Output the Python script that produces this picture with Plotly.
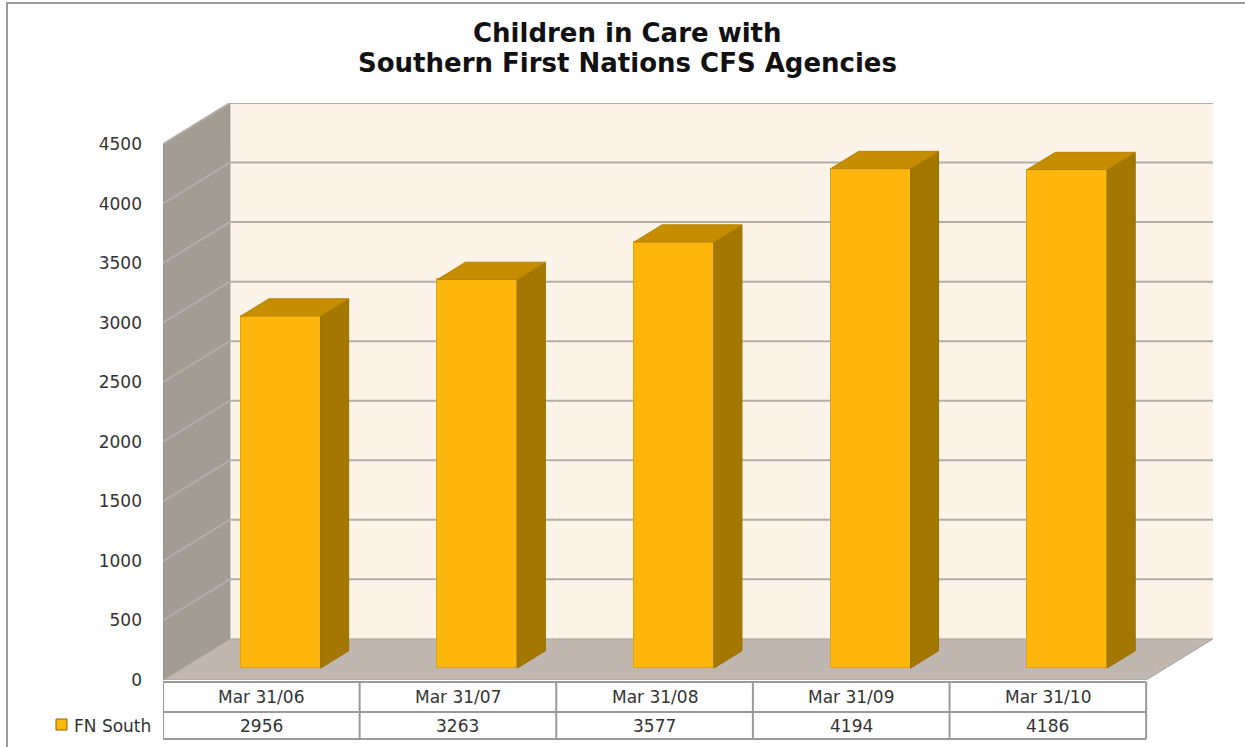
import plotly.graph_objects as go

# ---- data ----
categories = ["Mar 31/06", "Mar 31/07", "Mar 31/08", "Mar 31/09", "Mar 31/10"]
values = [2956, 3263, 3577, 4194, 4186]
series_name = "FN South"
y_ticks = [0, 500, 1000, 1500, 2000, 2500, 3000, 3500, 4000, 4500]
title_lines = ["Children in Care with", "Southern First Nations CFS Agencies"]

# ---- pseudo-3D geometry (style) ----
DX, DY = 0.34, 345          # full depth offset in axis units
F0, F1 = 0.29, 0.71         # bar depth span (fraction of depth)
BW = 0.406                  # bar width in category units
YMAX = max(y_ticks)
n = len(categories)
XMAX = n + DX
YTOP = YMAX + DY

FONT = "'DejaVu Sans', sans-serif"
FRONT = "#FFB70D"
TOP = "#C68D00"
SIDE = "#A47800"
EDGE = "#D9A21A"
GRID = "#B3ADA7"
TXT = "#333333"

fig = go.Figure()

# bars: front faces
base = F0 * DY
xc = [i + 0.5 + F0 * DX for i in range(n)]
fig.add_trace(go.Bar(x=xc, y=values, base=base, width=BW,
                     marker=dict(color=FRONT, line=dict(color=EDGE, width=1)),
                     hoverinfo="skip", showlegend=False))

# bars: side and top faces
ddx, ddy = (F1 - F0) * DX, (F1 - F0) * DY
sx, sy, tx, ty = [], [], [], []
for c, v in zip(xc, values):
    xl, xr = c - BW / 2, c + BW / 2
    sx += [xr, xr + ddx, xr + ddx, xr, xr, None]
    sy += [base, base + ddy, base + ddy + v, base + v, base, None]
    tx += [xl, xr, xr + ddx, xl + ddx, xl, None]
    ty += [base + v, base + v, base + v + ddy, base + v + ddy, base + v, None]
fig.add_trace(go.Scatter(x=sx, y=sy, fill="toself", fillcolor=SIDE, mode="lines",
                         line=dict(color="#9A7000", width=1), hoverinfo="skip", showlegend=False))
fig.add_trace(go.Scatter(x=tx, y=ty, fill="toself", fillcolor=TOP, mode="lines",
                         line=dict(color="#B88300", width=1), hoverinfo="skip", showlegend=False))

# ---- layout ----
L, R, T, B = 163, 32, 103, 67
W, H = 1245, 747
pw, ph = W - L - R, H - T - B
upx = XMAX / pw  # x units per pixel


def py(px):  # pixel y -> paper y
    return (H - B - px) / ph


def ppx(px):  # pixel x -> paper x
    return (px - L) / pw


def path(pts):
    return "M " + " L ".join(f"{x},{y}" for x, y in pts) + " Z"


shapes = []
# walls & floor (drawn beneath the bars)
shapes.append(dict(type="path", xref="x", yref="y", layer="below",
                   path=path([(DX, DY), (XMAX, DY), (XMAX, YTOP), (DX, YTOP)]),
                   fillcolor="#FDF4E9", line=dict(width=0)))
shapes.append(dict(type="path", xref="x", yref="y", layer="below",
                   path=path([(0, 0), (DX, DY), (DX, YTOP), (0, YMAX)]),
                   fillcolor="#A39C95", line=dict(color="#938C86", width=1)))
shapes.append(dict(type="path", xref="x", yref="y", layer="below",
                   path=path([(0, 0), (n, 0), (XMAX, DY), (DX, DY)]),
                   fillcolor="#C0B8B0", line=dict(color="#A8A19A", width=1)))
for t in y_ticks[1:]:
    shapes.append(dict(type="path", xref="x", yref="y", layer="below",
                       path=f"M 0,{t} L {DX},{t + DY} L {XMAX},{t + DY}",
                       line=dict(color=GRID, width=2)))

line_c = "#9A9A9A"
r1, r2, r3 = py(682), py(712), py(739)
leg_left = (48 - L) * upx
for x0, yy in [(0, r1), (leg_left, r2), (leg_left, r3)]:
    shapes.append(dict(type="line", xref="x", yref="paper", x0=x0, x1=n, y0=yy, y1=yy,
                       line=dict(color=line_c, width=2)))
for i in range(n + 1):
    shapes.append(dict(type="line", xref="x", yref="paper", x0=i, x1=i, y0=r1, y1=r3,
                       line=dict(color=line_c, width=2)))
shapes.append(dict(type="line", xref="x", yref="paper", x0=leg_left, x1=leg_left, y0=r2, y1=r3,
                   line=dict(color=line_c, width=2)))
# legend key
shapes.append(dict(type="rect", xref="paper", yref="paper", x0=ppx(56), x1=ppx(67), y0=py(730), y1=py(719),
                   fillcolor=FRONT, line=dict(color="#8A6A00", width=1)))
# outer chart border
shapes.append(dict(type="rect", xref="paper", yref="paper", x0=ppx(7), x1=ppx(1260), y0=py(770), y1=py(3),
                   line=dict(color="#9C9C9C", width=2), fillcolor="rgba(0,0,0,0)", layer="below"))

annotations = []
for i, (c, v) in enumerate(zip(categories, values)):
    annotations.append(dict(x=i + 0.5, y=(r1 + r2) / 2, xref="x", yref="paper", text=c, showarrow=False,
                            font=dict(family=FONT, size=17, color=TXT), yanchor="middle"))
    annotations.append(dict(x=i + 0.5, y=(r2 + r3) / 2, xref="x", yref="paper", text=str(v), showarrow=False,
                            font=dict(family=FONT, size=17, color=TXT), yanchor="middle"))
annotations.append(dict(x=ppx(72), y=(r2 + r3) / 2, xref="paper", yref="paper", text=series_name, showarrow=False,
                        xanchor="left", yanchor="middle", font=dict(family=FONT, size=17, color=TXT)))
for line_txt, ypx in zip(title_lines, [33, 63]):
    annotations.append(dict(x=ppx(627), y=py(ypx), xref="paper", yref="paper", text=line_txt,
                            showarrow=False, xanchor="center", yanchor="middle",
                            font=dict(family=FONT, size=26, color="#111111", weight="bold")))

fig.update_layout(
    width=W, height=H,
    margin=dict(l=L, r=R, t=T, b=B, pad=0),
    paper_bgcolor="white", plot_bgcolor="rgba(0,0,0,0)",
    xaxis=dict(range=[0, XMAX], showgrid=False, zeroline=False, showticklabels=False, showline=False,
               fixedrange=True),
    yaxis=dict(range=[0, YTOP], showgrid=False, zeroline=False, showline=False, tickmode="array",
               tickvals=y_ticks, ticktext=[str(t) for t in y_ticks], ticks="", ticklabelstandoff=20,
               tickfont=dict(family=FONT, size=17, color=TXT), fixedrange=True),
    shapes=shapes, annotations=annotations, bargap=0, showlegend=False,
)

fig.write_html("out.html", config={"displayModeBar": False},
               post_script="document.body.style.margin='0';")
